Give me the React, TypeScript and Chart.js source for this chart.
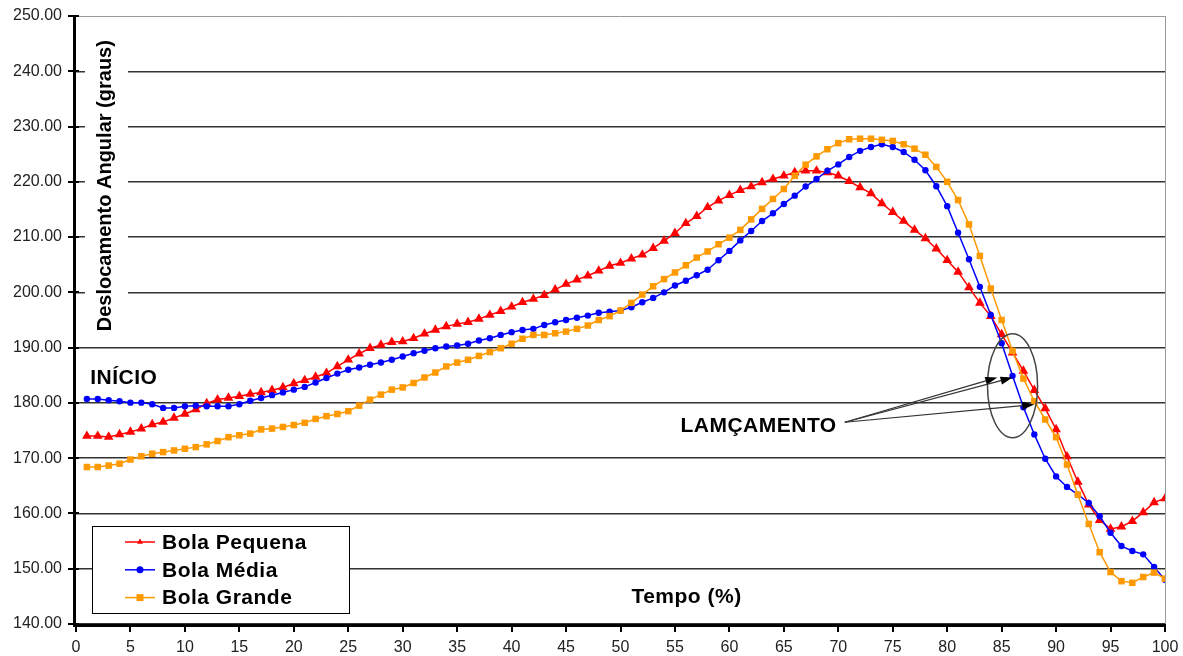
import React, { useEffect, useRef } from 'react';
import { Chart, registerables } from 'chart.js';

Chart.register(...registerables);

const tempo = [
  1, 2, 3, 4, 5, 6, 7, 8, 9, 10, 11, 12, 13, 14, 15, 16, 17, 18, 19, 20,
  21, 22, 23, 24, 25, 26, 27, 28, 29, 30, 31, 32, 33, 34, 35, 36, 37, 38, 39, 40,
  41, 42, 43, 44, 45, 46, 47, 48, 49, 50, 51, 52, 53, 54, 55, 56, 57, 58, 59, 60,
  61, 62, 63, 64, 65, 66, 67, 68, 69, 70, 71, 72, 73, 74, 75, 76, 77, 78, 79, 80,
  81, 82, 83, 84, 85, 86, 87, 88, 89, 90, 91, 92, 93, 94, 95, 96, 97, 98, 99, 100,
];

const bolaPequena = [
  174.0, 174.0, 173.85, 174.3, 174.75, 175.35, 176.1, 176.55, 177.3, 178.0,
  178.8, 179.9, 180.6, 180.9, 181.2, 181.6, 181.9, 182.3, 182.8, 183.5,
  184.1, 184.7, 185.4, 186.6, 187.8, 188.9, 189.9, 190.5, 191.0, 191.1,
  191.7, 192.5, 193.2, 193.85, 194.3, 194.6, 195.2, 195.9, 196.6, 197.4,
  198.2, 198.8, 199.5, 200.5, 201.5, 202.3, 203.0, 203.9, 204.8, 205.3,
  206.1, 206.8, 208.0, 209.3, 210.7, 212.5, 213.8, 215.4, 216.6, 217.6,
  218.5, 219.15, 219.9, 220.5, 221.1, 221.7, 222.0, 222.0, 221.7, 221.1,
  220.1, 219.0, 217.9, 216.1, 214.5, 212.9, 211.3, 209.75, 207.9, 205.8,
  203.7, 200.9, 198.1, 195.7, 192.4, 189.1, 185.8, 182.3, 179.0, 175.2,
  170.3, 165.7, 161.6, 158.8, 157.2, 157.6, 158.6, 160.2, 162.0, 162.7,
];

const bolaMedia = [
  180.7, 180.7, 180.5, 180.3, 180.05, 180.05, 179.75, 179.1, 179.1, 179.4,
  179.5, 179.4, 179.4, 179.4, 179.75, 180.4, 180.9, 181.4, 181.9, 182.4,
  182.9, 183.7, 184.5, 185.3, 186.0, 186.4, 186.9, 187.3, 187.8, 188.4,
  189.0, 189.45, 189.9, 190.2, 190.4, 190.7, 191.3, 191.7, 192.3, 192.8,
  193.2, 193.4, 194.1, 194.6, 195.0, 195.4, 195.8, 196.3, 196.5, 196.7,
  197.3, 198.2, 199.0, 200.0, 201.25, 202.1, 203.1, 204.1, 205.8, 207.5,
  209.4, 211.1, 212.9, 214.3, 216.0, 217.5, 219.15, 220.5, 222.0, 223.15,
  224.5, 225.6, 226.3, 226.8, 226.3, 225.4, 224.0, 222.1, 219.2, 215.6,
  210.8, 206.0, 201.0, 195.9, 190.8, 184.9, 179.2, 174.3, 169.9, 166.7,
  164.8, 163.4, 161.9, 159.5, 156.5, 154.1, 153.2, 152.6, 150.3, 148.0,
];

const bolaGrande = [
  168.4, 168.4, 168.66, 169.0, 169.75, 170.35, 170.8, 171.1, 171.4, 171.7,
  172.0, 172.5, 173.1, 173.8, 174.15, 174.45, 175.2, 175.35, 175.65, 176.0,
  176.4, 177.1, 177.6, 178.0, 178.5, 179.5, 180.6, 181.5, 182.4, 182.8,
  183.6, 184.6, 185.5, 186.6, 187.3, 187.8, 188.5, 189.2, 189.9, 190.7,
  191.6, 192.3, 192.3, 192.6, 192.9, 193.4, 194.0, 195.0, 195.7, 196.7,
  198.1, 199.6, 201.1, 202.4, 203.6, 204.9, 206.3, 207.4, 208.7, 209.9,
  211.3, 213.2, 215.1, 216.9, 218.7, 221.1, 223.1, 224.6, 225.9, 227.0,
  227.7, 227.8, 227.8, 227.6, 227.4, 226.8, 226.0, 224.9, 222.7, 220.0,
  216.7, 212.3, 206.6, 200.7, 195.0, 189.4, 184.4, 180.3, 177.0, 173.8,
  168.85, 163.4, 158.1, 153.0, 149.4, 147.75, 147.45, 148.5, 149.3, 148.2,
];

const seriesNames = ['Bola Pequena', 'Bola Média', 'Bola Grande'];
const seriesColors = ['#FF0000', '#0000FF', '#FF9900'];
const seriesMarkers = ['triangle', 'circle', 'rect'];

const yMin = 140;
const yMax = 250;
const yStep = 10;
const xMin = 0;
const xMax = 100;
const xStep = 5;

const yTitle = 'Deslocamento Angular (graus)';
const xTitle = 'Tempo (%)';
const inicioLabel = 'INÍCIO';
const lancamentoLabel = 'LAMÇAMENTO';

// annotation anchors, in data units
const yTitlePos = [2.75, 219.3];
const xTitlePos = [51.0, 144.8];
const inicioPos = [1.3, 184.4];
const lancamentoPos = [55.5, 175.7];
const arrowStart = [70.6, 176.5];
const arrowEnds = [
  [84.6, 184.6],
  [86.0, 184.6],
  [88.0, 179.7],
];
const ellipseCenter = [86.0, 183.1];
const ellipseRadii = [2.3, 9.4];

const FONT = '"Liberation Sans", Arial, Helvetica, sans-serif';

function drawMarker(ctx: CanvasRenderingContext2D, style: string, x: number, y: number, r: number) {
  ctx.beginPath();
  if (style === 'triangle') {
    const h = r * 1.5;
    const w = r * 0.866 * 2;
    ctx.moveTo(x, y - r);
    ctx.lineTo(x + w / 2, y - r + h);
    ctx.lineTo(x - w / 2, y - r + h);
    ctx.closePath();
  } else if (style === 'circle') {
    ctx.arc(x, y, r, 0, Math.PI * 2);
  } else {
    ctx.rect(x - r, y - r, r * 2, r * 2);
  }
  ctx.fill();
}

const decoPlugin = {
  id: 'deco',
  beforeDraw(chart: any) {
    const ctx = chart.ctx;
    ctx.save();
    ctx.fillStyle = '#FFFFFF';
    ctx.fillRect(0, 0, chart.width, chart.height);
    ctx.restore();
  },
  beforeDatasetsDraw(chart: any) {
    const ctx: CanvasRenderingContext2D = chart.ctx;
    const xs = chart.scales.x;
    const ys = chart.scales.y;
    const ca = chart.chartArea;
    ctx.save();
    ctx.strokeStyle = '#9a9a9a';
    ctx.lineWidth = 1;
    ctx.beginPath();
    ctx.moveTo(ca.right + 0.5, ca.top);
    ctx.lineTo(ca.right + 0.5, ca.bottom);
    ctx.stroke();
    ctx.font = `bold 20px ${FONT}`;
    const tw = ctx.measureText(yTitle).width;
    const cx = xs.getPixelForValue(yTitlePos[0]);
    const cy = ys.getPixelForValue(yTitlePos[1]);
    ctx.fillStyle = '#FFFFFF';
    ctx.fillRect(cx - 21, cy - tw / 2 - 12, 43, tw + 24);
    ctx.restore();
  },
  afterDraw(chart: any) {
    const ctx: CanvasRenderingContext2D = chart.ctx;
    const xs = chart.scales.x;
    const ys = chart.scales.y;
    const ca = chart.chartArea;
    ctx.save();

    // axes
    ctx.strokeStyle = '#000000';
    ctx.lineWidth = 3;
    ctx.beginPath();
    ctx.moveTo(ca.left - 1.5, ca.top - 1);
    ctx.lineTo(ca.left - 1.5, ca.bottom + 2.5);
    ctx.moveTo(ca.left - 3, ca.bottom + 1.5);
    ctx.lineTo(ca.right + 1, ca.bottom + 1.5);
    ctx.stroke();
    ctx.lineWidth = 2;
    ctx.beginPath();
    for (let v = yMin; v <= yMax; v += yStep) {
      const py = Math.round(ys.getPixelForValue(v));
      ctx.moveTo(ca.left - 8, py);
      ctx.lineTo(ca.left + 3, py);
    }
    for (let v = xMin; v <= xMax; v += xStep) {
      const px = Math.round(xs.getPixelForValue(v));
      ctx.moveTo(px, ca.bottom + 1);
      ctx.lineTo(px, ca.bottom + 8);
    }
    ctx.stroke();

    // y title
    const tx = xs.getPixelForValue(yTitlePos[0]);
    const ty = ys.getPixelForValue(yTitlePos[1]);
    ctx.save();
    ctx.translate(tx, ty);
    ctx.rotate(-Math.PI / 2);
    ctx.fillStyle = '#000000';
    ctx.font = `bold 20px ${FONT}`;
    ctx.textAlign = 'center';
    ctx.textBaseline = 'middle';
    ctx.fillText(yTitle, 0, 0);
    ctx.restore();

    // texts
    ctx.fillStyle = '#000000';
    ctx.font = `bold 21px ${FONT}`;
    (ctx as any).letterSpacing = '0.5px';
    ctx.textAlign = 'left';
    ctx.textBaseline = 'middle';
    ctx.fillText(xTitle, xs.getPixelForValue(xTitlePos[0]), ys.getPixelForValue(xTitlePos[1]));
    ctx.fillText(inicioLabel, xs.getPixelForValue(inicioPos[0]), ys.getPixelForValue(inicioPos[1]));
    ctx.fillText(lancamentoLabel, xs.getPixelForValue(lancamentoPos[0]), ys.getPixelForValue(lancamentoPos[1]));

    // ellipse
    const ex = xs.getPixelForValue(ellipseCenter[0]);
    const ey = ys.getPixelForValue(ellipseCenter[1]);
    const erx = xs.getPixelForValue(ellipseCenter[0] + ellipseRadii[0]) - ex;
    const ery = ey - ys.getPixelForValue(ellipseCenter[1] + ellipseRadii[1]);
    ctx.strokeStyle = '#444444';
    ctx.lineWidth = 1.5;
    ctx.beginPath();
    ctx.ellipse(ex, ey, erx, ery, 0, 0, Math.PI * 2);
    ctx.stroke();

    // arrows
    const sx = xs.getPixelForValue(arrowStart[0]);
    const sy = ys.getPixelForValue(arrowStart[1]);
    ctx.strokeStyle = '#333333';
    ctx.fillStyle = '#000000';
    ctx.lineWidth = 1.2;
    for (const e of arrowEnds) {
      const px = xs.getPixelForValue(e[0]);
      const py = ys.getPixelForValue(e[1]);
      const ang = Math.atan2(py - sy, px - sx);
      const len = 12;
      const hw = 4;
      const bx = px - Math.cos(ang) * len;
      const by = py - Math.sin(ang) * len;
      ctx.beginPath();
      ctx.moveTo(sx, sy);
      ctx.lineTo(bx, by);
      ctx.stroke();
      ctx.beginPath();
      ctx.moveTo(px, py);
      ctx.lineTo(bx + Math.sin(ang) * hw, by - Math.cos(ang) * hw);
      ctx.lineTo(bx - Math.sin(ang) * hw, by + Math.cos(ang) * hw);
      ctx.closePath();
      ctx.fill();
    }

    // legend
    const lx = ca.left + 16;
    const lw = 257;
    const lh = 87;
    const ly = ca.bottom - 11 - lh;
    ctx.fillStyle = '#FFFFFF';
    ctx.fillRect(lx, ly, lw, lh);
    ctx.strokeStyle = '#000000';
    ctx.lineWidth = 1;
    ctx.strokeRect(lx + 0.5, ly + 0.5, lw, lh);
    ctx.font = `bold 21px ${FONT}`;
    ctx.textBaseline = 'middle';
    ctx.textAlign = 'left';
    for (let i = 0; i < seriesNames.length; i++) {
      const rowY = ly + 16 + i * 27.8;
      ctx.strokeStyle = seriesColors[i];
      ctx.lineWidth = 1.5;
      ctx.beginPath();
      ctx.moveTo(lx + 33, rowY);
      ctx.lineTo(lx + 63, rowY);
      ctx.stroke();
      ctx.fillStyle = seriesColors[i];
      drawMarker(ctx, seriesMarkers[i], lx + 48, rowY, 3.5);
      ctx.fillStyle = '#000000';
      ctx.fillText(seriesNames[i], lx + 70, rowY + 1);
    }
    ctx.restore();
  },
};

function makeData(values: number[]) {
  return tempo.map((t, i) => ({ x: t, y: values[i] }));
}

export default function App() {
  const canvasRef = useRef<HTMLCanvasElement | null>(null);

  useEffect(() => {
    document.body.style.margin = '0';
    const canvas = canvasRef.current;
    if (!canvas) return;
    const tickFont = { family: FONT, size: 16 };
    const chart = new Chart(canvas, {
      type: 'line',
      data: {
        datasets: [
          {
            label: seriesNames[0],
            data: makeData(bolaPequena),
            borderColor: seriesColors[0],
            backgroundColor: seriesColors[0],
            pointStyle: 'triangle',
            pointRadius: 5.6,
            pointBorderWidth: 0,
            borderWidth: 1.5,
            tension: 0,
            order: 2,
          },
          {
            label: seriesNames[1],
            data: makeData(bolaMedia),
            borderColor: seriesColors[1],
            backgroundColor: seriesColors[1],
            pointStyle: 'circle',
            pointRadius: 3.2,
            pointBorderWidth: 0,
            borderWidth: 1.5,
            tension: 0,
            order: 1,
          },
          {
            label: seriesNames[2],
            data: makeData(bolaGrande),
            borderColor: seriesColors[2],
            backgroundColor: seriesColors[2],
            pointStyle: 'rect',
            pointRadius: 4.6,
            pointBorderWidth: 0,
            borderWidth: 1.5,
            tension: 0,
            order: 0,
          },
        ],
      },
      options: {
        responsive: false,
        animation: false,
        events: [],
        layout: { padding: { top: 16, right: 18, left: 0, bottom: 0 } },
        plugins: {
          legend: { display: false },
          tooltip: { enabled: false },
        },
        scales: {
          x: {
            type: 'linear',
            min: xMin,
            max: xMax,
            ticks: {
              stepSize: xStep,
              padding: 14,
              color: '#222222',
              font: tickFont,
              maxRotation: 0,
              autoSkip: false,
            },
            grid: { display: false, drawTicks: false },
            border: { display: false },
            afterFit: (s: any) => {
              s.height = 32;
              s.paddingLeft = 0;
              s.paddingRight = 0;
            },
          },
          y: {
            type: 'linear',
            min: yMin,
            max: yMax,
            ticks: {
              stepSize: yStep,
              padding: 14,
              color: '#222222',
              font: tickFont,
              callback: (v: any) => Number(v).toFixed(2),
            },
            grid: {
              drawTicks: false,
              color: (c: any) => (c.tick && c.tick.value === yMax ? '#9a9a9a' : '#333333'),
              lineWidth: (c: any) => (c.tick && c.tick.value === yMax ? 1 : 1.5),
            },
            border: { display: false },
            afterFit: (s: any) => {
              s.width = 76;
              s.paddingTop = 0;
              s.paddingBottom = 0;
            },
          },
        },
      },
      plugins: [decoPlugin],
    } as any);
    return () => chart.destroy();
  }, []);

  return (
    <div style={{ position: 'fixed', left: 0, top: 0, width: 1183, height: 656 }}>
      <canvas ref={canvasRef} width={1183} height={656} style={{ display: 'block' }} />
    </div>
  );
}
